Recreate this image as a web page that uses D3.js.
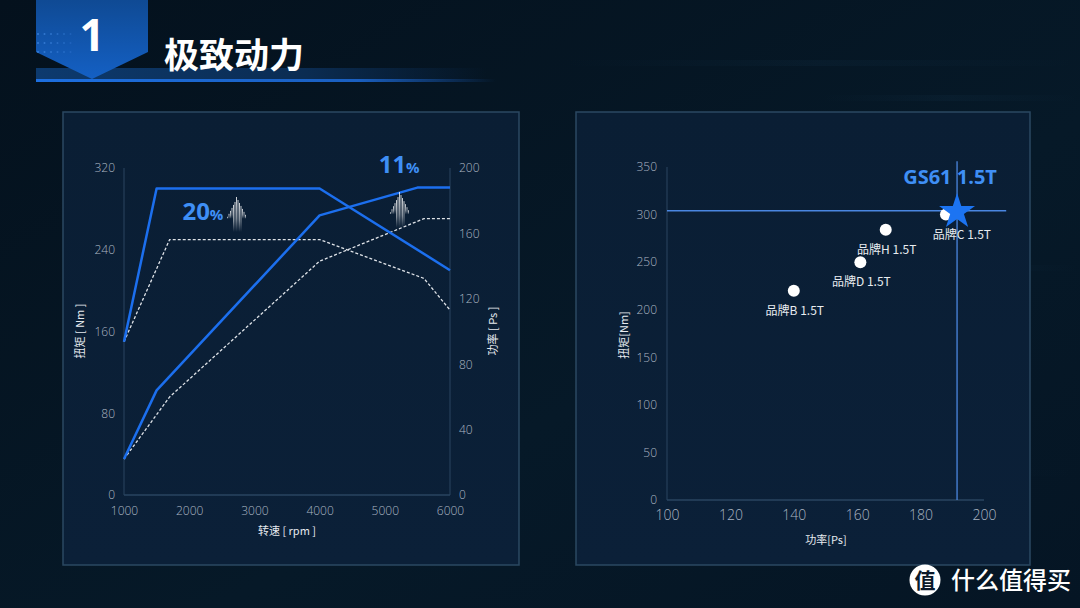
<!DOCTYPE html>
<html><head><meta charset="utf-8">
<script src="https://cdn.jsdelivr.net/npm/d3@7"></script>
<style>
html,body{margin:0;padding:0;background:#051320;}
svg{display:block;}
text{font-family:"Open Sans","Noto Sans CJK SC",sans-serif;}
.cjk{font-family:"Noto Sans CJK SC",sans-serif;}
</style></head><body>
<svg id="c" width="1080" height="608"></svg>
<script>
// ---------- data ----------
const torqueNew = [[1000,150],[1500,300],[4000,300],[6000,220]];
const torqueOld = [[1000,150],[1700,250],[4000,250],[5600,212],[6000,181]];
const powerNew  = [[1000,22],[1500,64],[4000,171],[5500,188],[6000,188]];
const powerOld  = [[1000,22],[1700,60],[4000,143],[5600,169],[6000,169]];
const rpmTicks = [1000,2000,3000,4000,5000,6000];
const torqueTicks = [0,80,160,240,320];
const powerTicks = [0,40,80,120,160,200];
const gainLabels = [{val:"20", pct:"%", rpm:2210, torque:269}, {val:"11", pct:"%", rpm:5220, torque:315}];

const brands = ["品牌B 1.5T","品牌D 1.5T","品牌H 1.5T","品牌C 1.5T"];
const brandPower = [140, 161, 169, 188];
const brandTorque = [220, 250, 284, 300];
const hero = {name:"GS61 1.5T", power:191.5, torque:304};
const psTicks = [100,120,140,160,180,200];
const nmTicks = [0,50,100,150,200,250,300,350];

// ---------- page ----------
const svg = d3.select("#c");
const defs = svg.append("defs");

const bg = defs.append("linearGradient").attr("id","bg").attr("x1",0).attr("y1",0).attr("x2",1).attr("y2",1);
bg.append("stop").attr("offset","0%").attr("stop-color","#04111d");
bg.append("stop").attr("offset","60%").attr("stop-color","#061928");
bg.append("stop").attr("offset","100%").attr("stop-color","#051524");
svg.append("rect").attr("width",1080).attr("height",608).attr("fill","url(#bg)");
[[560,60,520,0.05],[700,265,380,0.07],[620,470,460,0.04],[820,95,260,0.05]].forEach(s=>{
  const g = defs.append("linearGradient").attr("id","st"+s[1]);
  g.append("stop").attr("offset","0%").attr("stop-color","#3d7fb0").attr("stop-opacity",0);
  g.append("stop").attr("offset","50%").attr("stop-color","#3d7fb0").attr("stop-opacity",s[3]);
  g.append("stop").attr("offset","100%").attr("stop-color","#3d7fb0").attr("stop-opacity",0);
  svg.append("rect").attr("x",s[0]).attr("y",s[1]).attr("width",s[2]).attr("height",6).attr("fill","url(#st"+s[1]+")");
});

// header
const hb = defs.append("linearGradient").attr("id","hb").attr("x1",0).attr("x2",1);
hb.append("stop").attr("offset","0%").attr("stop-color","#0d3a6e");
hb.append("stop").attr("offset","60%").attr("stop-color","#0b2c52");
hb.append("stop").attr("offset","100%").attr("stop-color","#0b2c52").attr("stop-opacity",0);
svg.append("rect").attr("x",36).attr("y",68).attr("width",450).attr("height",12).attr("fill","url(#hb)");
const hl = defs.append("linearGradient").attr("id","hl").attr("x1",0).attr("x2",1);
hl.append("stop").attr("offset","0%").attr("stop-color","#1d6fe0");
hl.append("stop").attr("offset","70%").attr("stop-color","#1a5fc0");
hl.append("stop").attr("offset","100%").attr("stop-color","#1a5fc0").attr("stop-opacity",0);
svg.append("rect").attr("x",36).attr("y",79).attr("width",460).attr("height",3).attr("fill","url(#hl)");
const badge = defs.append("linearGradient").attr("id","badge").attr("x1",0).attr("y1",0).attr("x2",0).attr("y2",1);
badge.append("stop").attr("offset","0%").attr("stop-color","#0f4a94");
badge.append("stop").attr("offset","100%").attr("stop-color","#1460c4");
svg.append("path").attr("d","M36,0 L148,0 L148,52 L92,79 L36,52 Z").attr("fill","url(#badge)");
for(let r=0;r<3;r++)for(let c=0;c<6;c++){
  svg.append("circle").attr("cx",38+c*6.5).attr("cy",34+r*9).attr("r",1).attr("fill","#3f86e0").attr("opacity",0.8-c*0.1);
}
svg.append("text").attr("x",92).attr("y",51).attr("text-anchor","middle").attr("fill","#fff")
  .attr("font-size",44).attr("font-weight",700).text("1");
svg.append("text").attr("class","cjk").attr("x",164).attr("y",68).attr("fill","#fff")
  .attr("font-size",35).attr("font-weight",700).text("极致动力");

// panels
const pf = defs.append("linearGradient").attr("id","pf").attr("x1",0).attr("y1",0).attr("x2",0).attr("y2",1);
pf.append("stop").attr("offset","0%").attr("stop-color","#0a1e34");
pf.append("stop").attr("offset","100%").attr("stop-color","#0b2038");
[[63,112,456,453],[576,112,454,453]].forEach(p=>{
  svg.append("rect").attr("x",p[0]).attr("y",p[1]).attr("width",p[2]).attr("height",p[3])
    .attr("fill","url(#pf)").attr("stroke","#2b4862").attr("stroke-width",1.5);
});

const tickColor = "#aab5c2";
const axisColor = "#2a4560";

// ---------- left chart ----------
const x = d3.scaleLinear().domain([1000,6000]).range([124,450]);
const yT = d3.scaleLinear().domain([0,320]).range([495,168]);
const yP = d3.scaleLinear().domain([0,200]).range([495,168]);

function styleAxis(g){
  g.select(".domain").remove();
  g.selectAll("line").remove();
  g.selectAll("text").attr("fill",tickColor).attr("font-size",12).attr("font-family","Open Sans, sans-serif").attr("font-weight",300);
}
svg.append("g").attr("transform","translate(0,495)")
  .call(d3.axisBottom(x).tickValues(rpmTicks).tickSize(0).tickPadding(11).tickFormat(d3.format("d"))).call(styleAxis);
svg.append("g").attr("transform","translate(124,0)")
  .call(d3.axisLeft(yT).tickValues(torqueTicks).tickSize(0).tickPadding(9)).call(styleAxis);
svg.append("g").attr("transform","translate(450,0)")
  .call(d3.axisRight(yP).tickValues(powerTicks).tickSize(0).tickPadding(9)).call(styleAxis);
svg.append("line").attr("x1",x(1000)).attr("x2",x(6000)).attr("y1",yT(0)).attr("y2",yT(0)).attr("stroke",axisColor).attr("stroke-width",1.5);
svg.append("line").attr("x1",x(1000)).attr("x2",x(1000)).attr("y1",yT(0)).attr("y2",yT(320)).attr("stroke",axisColor).attr("stroke-width",1);
svg.append("line").attr("x1",x(6000)).attr("x2",x(6000)).attr("y1",yT(0)).attr("y2",yT(320)).attr("stroke",axisColor).attr("stroke-width",1);

const lineT = d3.line().x(d=>x(d[0])).y(d=>yT(d[1]));
const lineP = d3.line().x(d=>x(d[0])).y(d=>yP(d[1]));
const blue = "#1c6fee";
svg.append("path").attr("d",lineT(torqueOld)).attr("fill","none").attr("stroke","#dfe3e8").attr("stroke-width",1.3).attr("stroke-dasharray","3,2");
svg.append("path").attr("d",lineP(powerOld)).attr("fill","none").attr("stroke","#dfe3e8").attr("stroke-width",1.3).attr("stroke-dasharray","3,2");
svg.append("path").attr("d",lineT(torqueNew)).attr("fill","none").attr("stroke",blue).attr("stroke-width",2.5).attr("stroke-linejoin","round");
svg.append("path").attr("d",lineP(powerNew)).attr("fill","none").attr("stroke",blue).attr("stroke-width",2.5).attr("stroke-linejoin","round");

svg.append("text").attr("class","cjk").attr("transform","translate(84,331) rotate(-90)").attr("text-anchor","middle")
  .attr("fill","#e6eaef").attr("font-size",11).text("扭矩 [ Nm ]");
svg.append("text").attr("class","cjk").attr("transform","translate(497,331) rotate(-90)").attr("text-anchor","middle")
  .attr("fill","#e6eaef").attr("font-size",11).text("功率 [ Ps ]");
svg.append("text").attr("class","cjk").attr("x",287).attr("y",535).attr("text-anchor","middle")
  .attr("fill","#e6eaef").attr("font-size",11).text("转速 [ rpm ]");

// gain labels + arrow icons
const ag = defs.append("linearGradient").attr("id","ag").attr("x1",0).attr("y1",0).attr("x2",0).attr("y2",1);
ag.append("stop").attr("offset","0%").attr("stop-color","#ffffff").attr("stop-opacity",0.9);
ag.append("stop").attr("offset","60%").attr("stop-color","#ffffff").attr("stop-opacity",0.55);
ag.append("stop").attr("offset","100%").attr("stop-color","#ffffff").attr("stop-opacity",0);
function arrowIcon(cx, top, h){
  const g = svg.append("g");
  const headH = h*0.55, halfW = 9.5, shaftW = 4.5;
  for(let dx=-halfW; dx<=halfW; dx+=1.5){
    const a = Math.abs(dx);
    const yTop = top + (a/halfW)*headH*0.95 + (a<1?0:2);
    let yBot = a<=shaftW ? top+h : top+headH+3;
    g.append("rect").attr("x",cx+dx-0.45).attr("y",yTop).attr("width",0.9).attr("height",yBot-yTop)
      .attr("fill","url(#ag)");
  }
}
gainLabels.forEach(d=>{
  const t = svg.append("text").attr("x", x(d.rpm)).attr("y", yT(d.torque)).attr("text-anchor","middle").attr("fill","#3f8ff5").attr("font-weight",700);
  t.append("tspan").attr("font-size",24).text(d.val);
  t.append("tspan").attr("font-size",15).text(d.pct);
});
arrowIcon(237, 196, 36);
arrowIcon(400, 191, 37);

// ---------- right chart ----------
const xs = d3.scaleLinear().domain([100,200]).range([667,984]);
const ys = d3.scaleLinear().domain([0,350]).range([500,167]);
svg.append("g").attr("transform","translate(0,500)")
  .call(d3.axisBottom(xs).tickValues(psTicks).tickSize(0).tickPadding(10)).call(styleAxis)
  .selectAll("text").attr("font-size",14);
svg.append("g").attr("transform","translate(657,0)")
  .call(d3.axisLeft(ys).tickValues(nmTicks).tickSize(0).tickPadding(0)).call(styleAxis);
svg.append("line").attr("x1",xs(100)).attr("x2",xs(200)).attr("y1",ys(0)).attr("y2",ys(0)).attr("stroke",axisColor).attr("stroke-width",1.5);
svg.append("line").attr("x1",xs(100)).attr("x2",xs(100)).attr("y1",ys(0)).attr("y2",ys(350)).attr("stroke",axisColor).attr("stroke-width",1);

svg.append("text").attr("class","cjk").attr("transform","translate(628,335) rotate(-90)").attr("text-anchor","middle")
  .attr("fill","#e6eaef").attr("font-size",11).text("扭矩[Nm]");
svg.append("text").attr("class","cjk").attr("x",826).attr("y",544).attr("text-anchor","middle")
  .attr("fill","#e6eaef").attr("font-size",11).text("功率[Ps]");

const chColor = "#4a86e0";
svg.append("line").attr("x1",xs(100)).attr("x2",xs(207)).attr("y1",ys(hero.torque)).attr("y2",ys(hero.torque)).attr("stroke",chColor).attr("stroke-width",1.3);
svg.append("line").attr("x1",xs(hero.power)).attr("x2",xs(hero.power)).attr("y1",ys(356)).attr("y2",ys(0)).attr("stroke",chColor).attr("stroke-width",1.3);

brands.forEach((b,i)=>{
  svg.append("circle").attr("cx",xs(brandPower[i])).attr("cy",ys(brandTorque[i])).attr("r",6).attr("fill","#fff");
  svg.append("text").attr("class","cjk").attr("x",xs(brandPower[i])+(i===3?16:1)).attr("y",ys(brandTorque[i])+24)
    .attr("text-anchor","middle").attr("fill","#e8ecf0").attr("font-size",12).text(b);
});
const star = d3.symbol().type(d3.symbolStar).size(400);
svg.append("path").attr("d",star()).attr("transform",`translate(${xs(hero.power)},${ys(hero.torque)+1})`).attr("fill","#1c74f2");
svg.append("text").attr("x",xs(hero.power)-7).attr("y",ys(hero.torque)-27).attr("text-anchor","middle")
  .attr("fill","#3f8ff5").attr("font-size",20).attr("font-weight",700).text(hero.name);

// ---------- watermark ----------
svg.append("circle").attr("cx",925).attr("cy",580).attr("r",15.5).attr("fill","#fff");
svg.append("text").attr("class","cjk").attr("x",925).attr("y",588).attr("text-anchor","middle").attr("fill","#0b1a2b")
  .attr("font-size",21).attr("font-weight",700).text("值");
svg.append("text").attr("class","cjk").attr("x",951).attr("y",589).attr("fill","#fff")
  .attr("font-size",24).attr("font-weight",500).text("什么值得买");
</script>
</body></html>
